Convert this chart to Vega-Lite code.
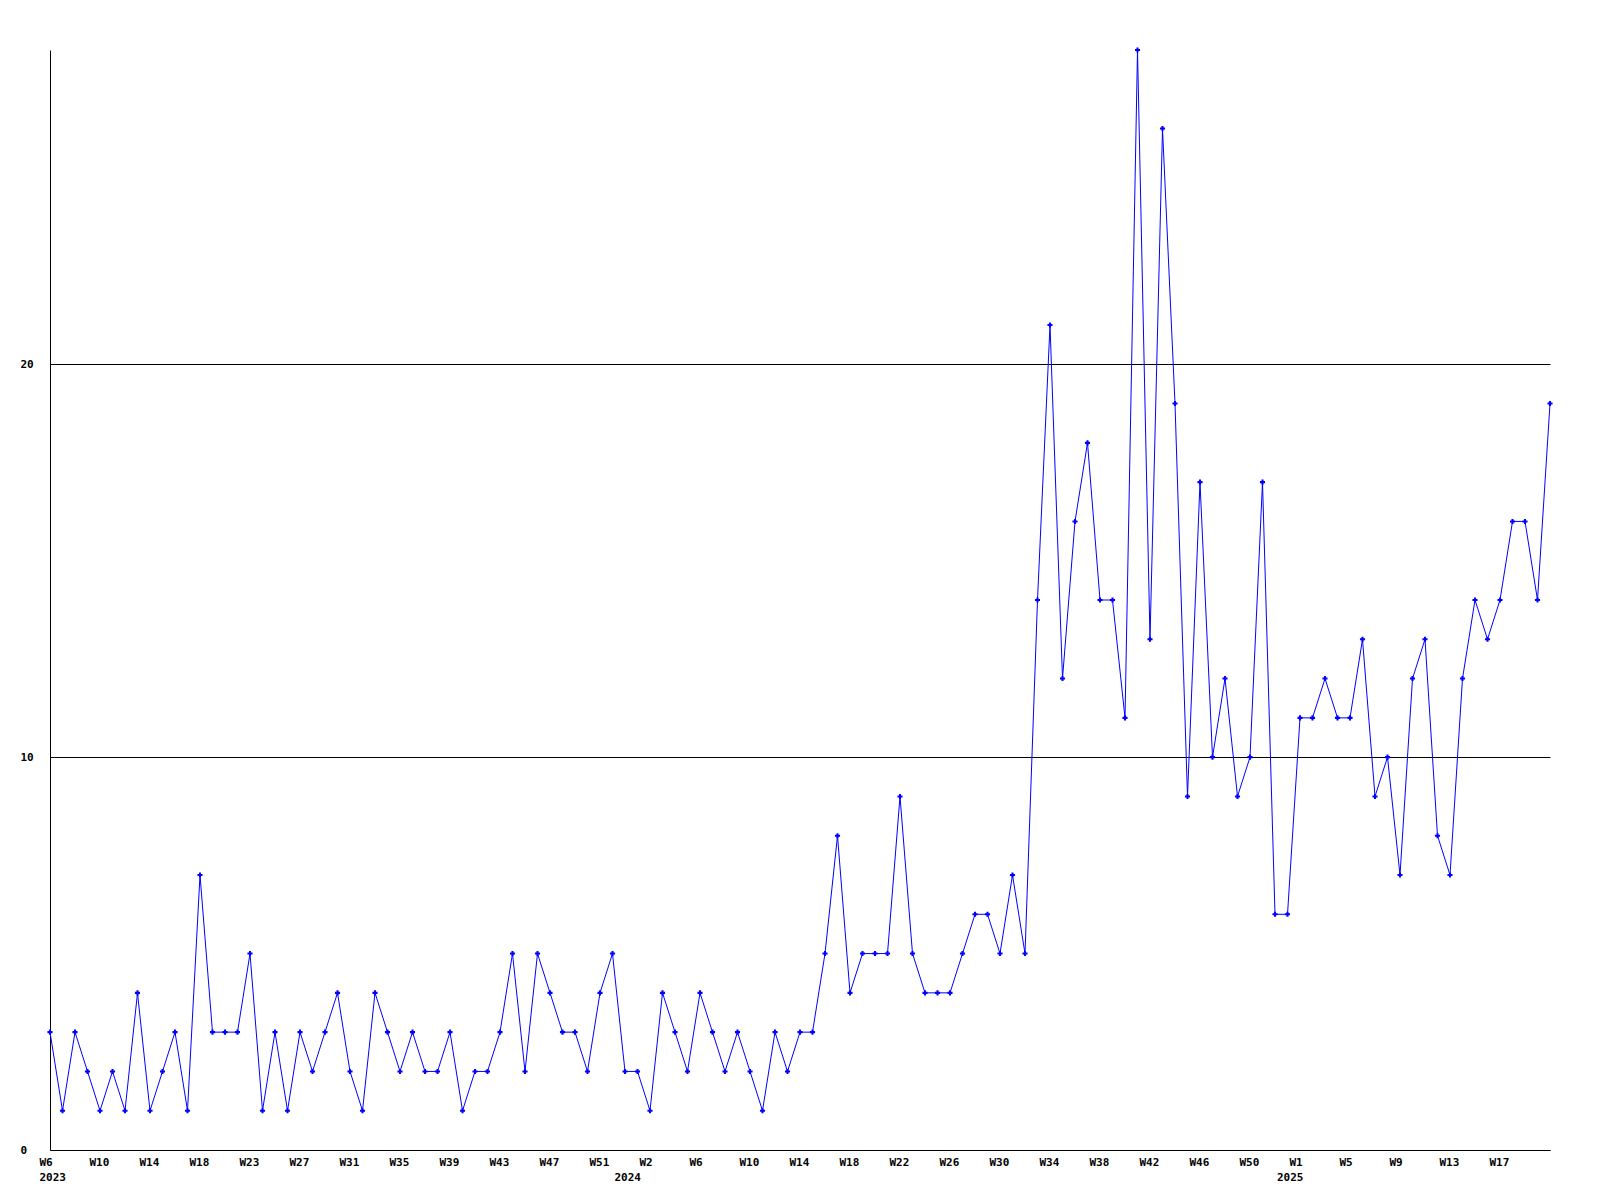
{
  "$schema": "https://vega.github.io/schema/vega-lite/v6.json",
  "width": 1500,
  "height": 1100,
  "autosize": "none",
  "padding": {"left": 50, "top": 50, "right": 50, "bottom": 50},
  "background": "white",
  "data": {"values": [
    {"week":"2023-W06","count":3},{"week":"2023-W07","count":1},{"week":"2023-W08","count":3},{"week":"2023-W09","count":2},
    {"week":"2023-W10","count":1},{"week":"2023-W11","count":2},{"week":"2023-W12","count":1},{"week":"2023-W13","count":4},
    {"week":"2023-W14","count":1},{"week":"2023-W15","count":2},{"week":"2023-W16","count":3},{"week":"2023-W17","count":1},
    {"week":"2023-W18","count":7},{"week":"2023-W19","count":3},{"week":"2023-W20","count":3},{"week":"2023-W21","count":3},
    {"week":"2023-W23","count":5},{"week":"2023-W24","count":1},{"week":"2023-W25","count":3},{"week":"2023-W26","count":1},
    {"week":"2023-W27","count":3},{"week":"2023-W28","count":2},{"week":"2023-W29","count":3},{"week":"2023-W30","count":4},
    {"week":"2023-W31","count":2},{"week":"2023-W32","count":1},{"week":"2023-W33","count":4},{"week":"2023-W34","count":3},
    {"week":"2023-W35","count":2},{"week":"2023-W36","count":3},{"week":"2023-W37","count":2},{"week":"2023-W38","count":2},
    {"week":"2023-W39","count":3},{"week":"2023-W40","count":1},{"week":"2023-W41","count":2},{"week":"2023-W42","count":2},
    {"week":"2023-W43","count":3},{"week":"2023-W44","count":5},{"week":"2023-W45","count":2},{"week":"2023-W46","count":5},
    {"week":"2023-W47","count":4},{"week":"2023-W48","count":3},{"week":"2023-W49","count":3},{"week":"2023-W50","count":2},
    {"week":"2023-W51","count":4},{"week":"2023-W52","count":5},{"week":"2024-W00","count":2},{"week":"2024-W01","count":2},
    {"week":"2024-W02","count":1},{"week":"2024-W03","count":4},{"week":"2024-W04","count":3},{"week":"2024-W05","count":2},
    {"week":"2024-W06","count":4},{"week":"2024-W07","count":3},{"week":"2024-W08","count":2},{"week":"2024-W09","count":3},
    {"week":"2024-W10","count":2},{"week":"2024-W11","count":1},{"week":"2024-W12","count":3},{"week":"2024-W13","count":2},
    {"week":"2024-W14","count":3},{"week":"2024-W15","count":3},{"week":"2024-W16","count":5},{"week":"2024-W17","count":8},
    {"week":"2024-W18","count":4},{"week":"2024-W19","count":5},{"week":"2024-W20","count":5},{"week":"2024-W21","count":5},
    {"week":"2024-W22","count":9},{"week":"2024-W23","count":5},{"week":"2024-W24","count":4},{"week":"2024-W25","count":4},
    {"week":"2024-W26","count":4},{"week":"2024-W27","count":5},{"week":"2024-W28","count":6},{"week":"2024-W29","count":6},
    {"week":"2024-W30","count":5},{"week":"2024-W31","count":7},{"week":"2024-W32","count":5},{"week":"2024-W33","count":14},
    {"week":"2024-W34","count":21},{"week":"2024-W35","count":12},{"week":"2024-W36","count":16},{"week":"2024-W37","count":18},
    {"week":"2024-W38","count":14},{"week":"2024-W39","count":14},{"week":"2024-W40","count":11},{"week":"2024-W41","count":28},
    {"week":"2024-W42","count":13},{"week":"2024-W43","count":26},{"week":"2024-W44","count":19},{"week":"2024-W45","count":9},
    {"week":"2024-W46","count":17},{"week":"2024-W47","count":10},{"week":"2024-W48","count":12},{"week":"2024-W49","count":9},
    {"week":"2024-W50","count":10},{"week":"2024-W51","count":17},{"week":"2024-W52","count":6},{"week":"2025-W00","count":6},
    {"week":"2025-W01","count":11},{"week":"2025-W02","count":11},{"week":"2025-W03","count":12},{"week":"2025-W04","count":11},
    {"week":"2025-W05","count":11},{"week":"2025-W06","count":13},{"week":"2025-W07","count":9},{"week":"2025-W08","count":10},
    {"week":"2025-W09","count":7},{"week":"2025-W10","count":12},{"week":"2025-W11","count":13},{"week":"2025-W12","count":8},
    {"week":"2025-W13","count":7},{"week":"2025-W14","count":12},{"week":"2025-W15","count":14},{"week":"2025-W16","count":13},
    {"week":"2025-W17","count":14},{"week":"2025-W18","count":16},{"week":"2025-W19","count":16},{"week":"2025-W20","count":14},
    {"week":"2025-W21","count":19}
  ]},
  "layer": [
    {
      "mark": {"type": "line", "color": "#0000ff", "strokeWidth": 1},
      "encoding": {
        "x": {
          "field": "week", "type": "ordinal", "sort": null,
          "scale": {"type": "point", "padding": 0},
          "axis": {
            "orient": "bottom", "title": null, "ticks": false, "tickSize": 0, "grid": false,
            "domain": true, "domainColor": "#000000", "domainWidth": 1,
            "labelAngle": 0, "labelAlign": "left", "labelOffset": -11, "labelBaseline": "top", "labelPadding": 6,
            "labelOverlap": false, "labelBound": false, "labelFlush": false,
            "values": ["2023-W06","2023-W10","2023-W14","2023-W18","2023-W23","2023-W27","2023-W31","2023-W35","2023-W39","2023-W43","2023-W47","2023-W51","2024-W02","2024-W06","2024-W10","2024-W14","2024-W18","2024-W22","2024-W26","2024-W30","2024-W34","2024-W38","2024-W42","2024-W46","2024-W50","2025-W01","2025-W05","2025-W09","2025-W13","2025-W17"],
            "labelExpr": "'W' + toNumber(slice(datum.value, 6))"
          }
        },
        "y": {
          "field": "count", "type": "quantitative",
          "scale": {"domain": [0, 28], "nice": false, "zero": true},
          "axis": {
            "title": null, "values": [0, 10, 20], "grid": true, "gridColor": "#000000", "gridOpacity": 1, "gridWidth": 1,
            "ticks": false, "tickSize": 0, "domain": true, "domainColor": "#000000", "domainWidth": 1,
            "labelAlign": "left", "labelPadding": 30, "labelBaseline": "middle"
          }
        }
      }
    },
    {
      "mark": {"type": "point", "shape": "cross", "filled": true, "color": "#0000ff", "size": 26, "opacity": 1, "strokeWidth": 0},
      "encoding": {
        "x": {
          "field": "week", "type": "ordinal", "sort": null,
          "scale": {"type": "point", "padding": 0},
          "axis": {
            "orient": "bottom", "title": null, "ticks": false, "tickSize": 0, "grid": false, "domain": false,
            "labelAngle": 0, "labelAlign": "left", "labelOffset": -11, "labelBaseline": "top", "labelPadding": 21,
            "labelOverlap": false, "labelBound": false, "labelFlush": false,
            "values": ["2023-W06", "2024-W00", "2025-W00"],
            "labelExpr": "slice(datum.value, 0, 4)"
          }
        },
        "y": {"field": "count", "type": "quantitative"}
      }
    }
  ],
  "resolve": {"axis": {"x": "independent"}},
  "config": {
    "view": {"stroke": null},
    "axis": {
      "labelFont": "DejaVu Sans Mono", "labelFontSize": 11, "labelFontWeight": "bold", "labelColor": "#000000"
    }
  }
}
